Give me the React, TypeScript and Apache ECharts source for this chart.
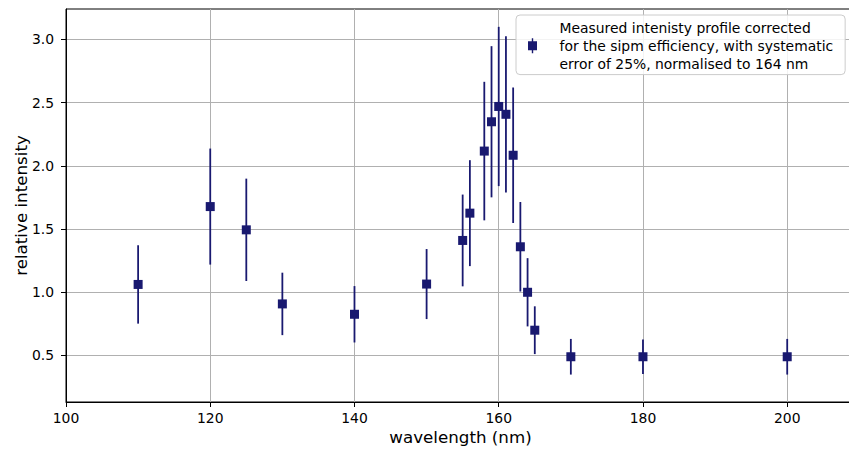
import React, { useEffect, useRef } from "react";
import * as echarts from "echarts";

// ---- data ----
const wavelengths = [110, 120, 125, 130, 140, 150, 155, 156, 158, 159, 160, 161, 162, 163, 164, 165, 170, 180, 200];
const intensity = [1.062, 1.678, 1.494, 0.908, 0.826, 1.065, 1.41, 1.626, 2.117, 2.349, 2.47, 2.408, 2.084, 1.36, 1.0, 0.7, 0.49, 0.49, 0.49];
const errors = [0.31, 0.459, 0.405, 0.247, 0.223, 0.277, 0.363, 0.419, 0.548, 0.598, 0.63, 0.618, 0.536, 0.354, 0.27, 0.189, 0.141, 0.137, 0.141];

const xTicks = [100, 120, 140, 160, 180, 200];
const yTicks = [0.5, 1.0, 1.5, 2.0, 2.5, 3.0];

const LEGEND_LINES = [
  "Measured intenisty profile corrected",
  "for the sipm efficiency, with systematic",
  "error of 25%, normalised to 164 nm",
];
const SERIES_NAME = LEGEND_LINES.join(" ");

const COLOR = "#191970";
const FONT = "DejaVu Sans";

export default function App() {
  const ref = useRef<HTMLDivElement>(null);

  useEffect(() => {
    if (!ref.current) return;
    const chart = echarts.init(ref.current, undefined, { renderer: "svg" });

    const points = wavelengths.map((w, i) => [w, intensity[i]]);
    const bars = wavelengths.map((w, i) => [w, intensity[i], errors[i]]);

    chart.setOption({
      animation: false,
      backgroundColor: "#ffffff",
      grid: {
        left: 66,
        top: 9,
        right: -6,
        bottom: 48,
        show: true,
        borderColor: "#000",
        borderWidth: 1,
        containLabel: false,
        outerBoundsMode: "none",
      },
      legend: {
        data: [SERIES_NAME],
        left: 516,
        top: 15,
        orient: "vertical",
        padding: [6, 12, 4, 12],
        itemWidth: 20,
        itemHeight: 15,
        icon: "path://M3.8,0H5.2V3H9V12H5.2V15H3.8V12H0V3H3.8Z",
        backgroundColor: "rgba(255,255,255,0.85)",
        borderColor: "#cccccc",
        borderWidth: 1,
        borderRadius: 4,
        formatter: () => LEGEND_LINES.map((l) => `{t|${l}}`).join("\n"),
        textStyle: {
          rich: {
            t: {
              fontFamily: FONT,
              fontSize: 13.9,
              lineHeight: 17.8,
              color: "#000",
              padding: [0, 0, 0, 12],
            },
          },
        },
      },
      xAxis: {
        type: "value",
        min: 100,
        max: 209.4,
        name: "wavelength (nm)",
        nameLocation: "middle",
        nameGap: 26,
        nameMoveOverlap: false,
        nameTextStyle: { fontFamily: FONT, fontSize: 16.7, color: "#000" },
        axisLine: { show: true, lineStyle: { color: "#000", width: 1 } },
        axisTick: { show: true, inside: false, length: 5, lineStyle: { color: "#000" }, customValues: xTicks },
        axisLabel: {
          customValues: xTicks,
          margin: 9,
          fontFamily: FONT,
          fontSize: 13.9,
          color: "#000",
          formatter: (v: number) => String(v),
        },
        splitLine: { show: true, lineStyle: { color: "#b0b0b0", width: 1 } },
      },
      yAxis: {
        type: "value",
        min: 0.132,
        max: 3.241,
        name: "relative intensity",
        nameLocation: "middle",
        nameGap: 37,
        nameMoveOverlap: false,
        nameTextStyle: { fontFamily: FONT, fontSize: 16.7, color: "#000" },
        axisLine: { show: true, lineStyle: { color: "#000", width: 1 } },
        axisTick: { show: true, inside: false, length: 5, lineStyle: { color: "#000" }, customValues: yTicks },
        axisLabel: {
          customValues: yTicks,
          margin: 12,
          fontFamily: FONT,
          fontSize: 13.9,
          color: "#000",
          formatter: (v: number) => v.toFixed(1),
        },
        splitLine: { show: true, lineStyle: { color: "#b0b0b0", width: 1 } },
      },
      series: [
        {
          type: "custom",
          name: "errorbars",
          data: bars,
          encode: { x: 0, y: 1 },
          z: 2,
          renderItem: (params: any, api: any) => {
            const x = api.value(0);
            const y = api.value(1);
            const e = api.value(2);
            const top = api.coord([x, y + e]);
            const bot = api.coord([x, y - e]);
            return {
              type: "line",
              shape: { x1: top[0], y1: top[1], x2: bot[0], y2: bot[1] },
              style: { stroke: COLOR, lineWidth: 1.8 },
            };
          },
        },
        {
          type: "scatter",
          name: SERIES_NAME,
          data: points,
          symbol: "rect",
          symbolSize: 9,
          itemStyle: { color: COLOR, opacity: 1 },
          z: 3,
        },
      ],
    });

    return () => chart.dispose();
  }, []);

  return (
    <div
      ref={ref}
      style={{ position: "fixed", left: 0, top: 0, width: 849, height: 450, background: "#fff" }}
    />
  );
}
